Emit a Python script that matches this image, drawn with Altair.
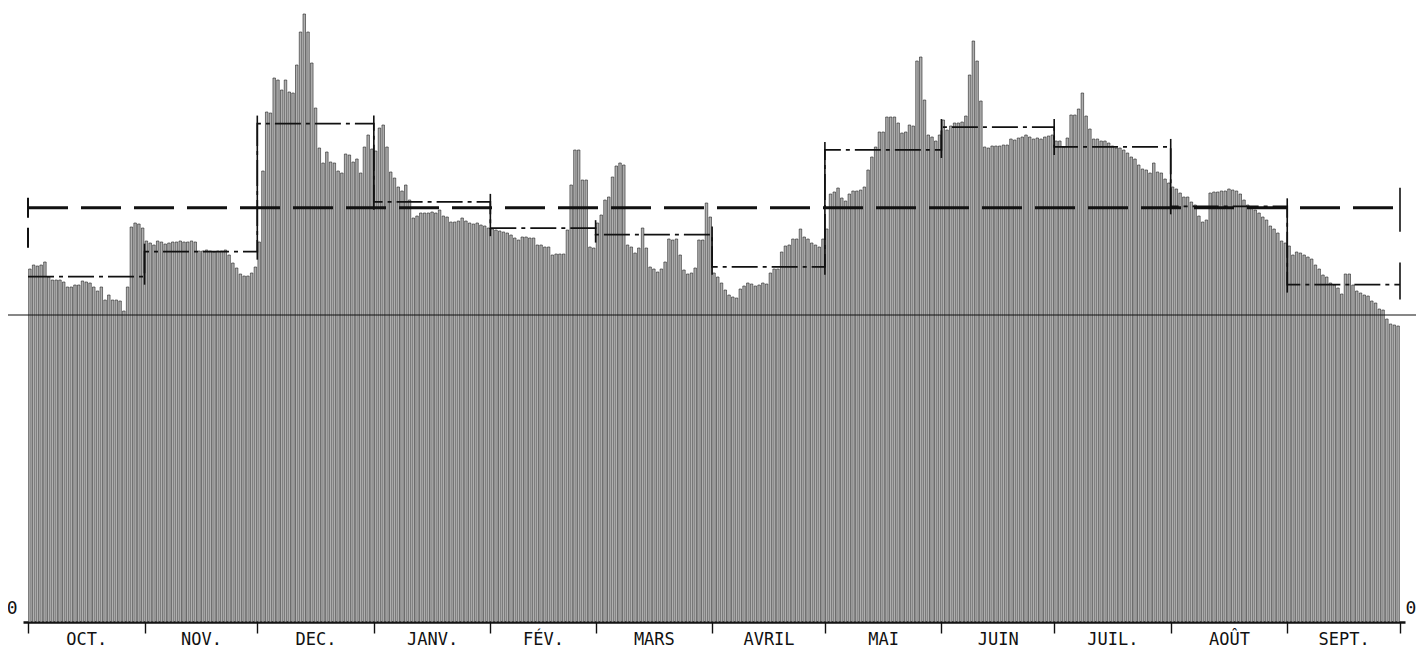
import json
import altair as alt
import pandas as pd

# ---------------- data ----------------
month_names = ["OCT.", "NOV.", "DEC.", "JANV.", "FÉV.", "MARS",
               "AVRIL", "MAI", "JUIN", "JUIL.", "AOÛT", "SEPT."]

oct_vals = [353, 357, 356, 357, 360, 345, 342, 342, 342, 340, 335, 335, 337, 337, 341, 340,
            339, 335, 331, 335, 322, 327, 322, 322, 321, 311, 335, 395, 399, 398, 394]
nov_vals = [381, 379, 377, 381, 380, 378, 379, 380, 380, 381, 380, 380, 381, 380, 371,
            371, 372, 371, 370, 371, 371, 372, 367, 359, 354, 348, 346, 346, 349, 355]
dec_vals = [380, 451, 510, 509, 544, 542, 532, 542, 530, 529, 557, 590, 608, 590, 559, 514,
            474, 459, 470, 460, 459, 451, 449, 468, 467, 460, 463, 449, 475, 487, 473]
jan_vals = [471, 494, 497, 475, 450, 444, 435, 431, 437, 422, 404, 406, 409, 409, 409, 410,
            409, 412, 406, 405, 400, 400, 401, 404, 401, 399, 398, 399, 397, 396, 394]
feb_vals = [393, 392, 391, 390, 389, 387, 384, 382, 385, 385, 384, 384, 377, 377,
            375, 375, 367, 368, 368, 368, 392, 437, 472, 472, 442, 442, 375, 374]
mar_vals = [399, 407, 422, 425, 445, 456, 459, 457, 377, 375, 369, 374, 394, 374, 355, 353,
            350, 353, 360, 383, 382, 383, 367, 352, 348, 349, 354, 382, 382, 419, 405]
apr_vals = [349, 345, 339, 332, 327, 325, 324, 333, 336, 339, 338, 336, 337, 339, 338,
            349, 353, 353, 370, 376, 377, 383, 383, 393, 385, 383, 379, 377, 375, 383]
may_vals = [393, 428, 430, 434, 424, 421, 428, 431, 431, 432, 435, 452, 465, 475, 490, 490,
            505, 505, 505, 499, 489, 490, 497, 496, 561, 565, 522, 487, 485, 481, 487]
jun_vals = [502, 492, 496, 499, 499, 500, 506, 547, 581, 561, 521, 475, 474, 476, 476,
            476, 477, 477, 483, 482, 484, 485, 487, 485, 483, 484, 483, 485, 486, 487]
jul_vals = [481, 481, 475, 484, 507, 507, 513, 529, 506, 493, 483, 483, 481, 481, 479, 476,
            474, 474, 472, 469, 465, 463, 457, 453, 452, 449, 459, 450, 449, 443, 439]
aug_vals = [435, 433, 429, 425, 425, 420, 417, 406, 400, 402, 429, 430, 430, 431, 431, 433,
            432, 431, 428, 422, 417, 414, 412, 409, 405, 402, 396, 393, 389, 381, 379]
sep_vals = [376, 367, 370, 369, 367, 365, 363, 357, 353, 347, 345, 339, 337, 334, 328,
            348, 348, 337, 331, 329, 327, 326, 321, 319, 313, 312, 303, 298, 297, 296]

ref_level = 307          # thin horizontal reference line
y_max = 614              # top of the value scale
zero_label = [0]

# ---------------- derived tables ----------------
all_months = [oct_vals, nov_vals, dec_vals, jan_vals, feb_vals, mar_vals,
              apr_vals, may_vals, jun_vals, jul_vals, aug_vals, sep_vals]

rows, starts = [], []
d = 0
for vals in all_months:
    starts.append(d)
    for v in vals:
        rows.append({"day": d + 0.5, "value": v})
        d += 1
n_days = d
ends = starts[1:] + [n_days]
mids = [(s + e) / 2 for s, e in zip(starts, ends)]
avgs = [sum(v) / len(v) for v in all_months]
annual = sum(r["value"] for r in rows) / n_days

bars_df = pd.DataFrame(rows)

step_rows = []
for i, (s, e, a) in enumerate(zip(starts, ends, avgs)):
    step_rows.append({"x": s, "y": a, "o": 2 * i})
    step_rows.append({"x": e, "y": a, "o": 2 * i + 1})
step_df = pd.DataFrame(step_rows)

tick_rows = []
for i in range(1, len(starts)):
    a0, a1 = avgs[i - 1], avgs[i]
    tick_rows.append({"x": starts[i], "y1": max(a0, a1) + 8, "y2": min(a0, a1) - 8})
tick_rows.append({"x": n_days, "y1": annual + 20, "y2": annual - 24})
tick_rows.append({"x": n_days, "y1": avgs[-1] + 22, "y2": avgs[-1] - 15})
tick_df = pd.DataFrame(tick_rows)
left_tick_df = pd.DataFrame([{"x": 0, "y1": annual + 10, "y2": avgs[0] + 20}])

annual_df = pd.DataFrame([{"x": 0, "x2": n_days, "y": annual}])
ref_df = pd.DataFrame([{"y": ref_level}])

# ---------------- styling ----------------
W, H = 1382, 614
PAD = {"left": 15, "top": 0, "right": 11, "bottom": 27}
FONT = "DejaVu Sans Mono"
INK = "#111111"

mids_js = json.dumps(mids)
names_js = json.dumps(month_names, ensure_ascii=False)
is_mid = f"indexof({mids_js}, datum.value) >= 0"

x_scale = alt.Scale(domain=[0, n_days], nice=False, zero=False)
y_scale = alt.Scale(domain=[0, y_max], nice=False)

x_axis = alt.Axis(
    values=starts + [n_days] + mids, title=None, grid=False,
    domain=True, domainColor=INK, domainWidth=2.6,
    ticks=True, tickSize=11, tickWidth=1.4, tickColor=INK,
    tickOpacity={"condition": {"test": is_mid, "value": 0}, "value": 1},
    labelExpr=f"{is_mid} ? {names_js}[indexof({mids_js}, datum.value)] : ''",
    labelFont=FONT, labelFontSize=17, labelColor=INK, labelPadding=-2,
    labelOverlap=False, labelFlush=False, labelBound=False, labelAngle=0,
)

left_axis = alt.Axis(values=zero_label, title=None, grid=False, domain=False, ticks=False,
                     labelFont=FONT, labelFontSize=18, labelColor=INK,
                     labelPadding=6, labelOffset=-14)
right_axis = alt.Axis(orient="right", values=zero_label, title=None, grid=False, domain=False,
                      ticks=False, labelFont=FONT, labelFontSize=18, labelColor=INK,
                      labelPadding=0, labelOffset=-14)

bars = alt.Chart(bars_df).mark_bar(
    width=2.5, fill="#b0b0b0", stroke="#222222", strokeWidth=0.6
).encode(
    x=alt.X("day:Q", scale=x_scale, axis=x_axis),
    y=alt.Y("value:Q", scale=y_scale, axis=left_axis),
)

ref_line = alt.Chart(ref_df).mark_rule(color=INK, strokeWidth=1.1).encode(
    y=alt.Y("y:Q", scale=y_scale, axis=None),
    x=alt.value(-PAD["left"]), x2=alt.value(W + PAD["right"]),
)

annual_line = alt.Chart(annual_df).mark_rule(
    color=INK, strokeWidth=3.2, strokeDash=[40, 13]
).encode(
    x=alt.X("x:Q", scale=x_scale, axis=x_axis), x2="x2:Q",
    y=alt.Y("y:Q", scale=y_scale, axis=right_axis),
)

step_line = alt.Chart(step_df).mark_line(
    color=INK, strokeWidth=1.7, strokeDash=[26, 5, 4, 5]
).encode(
    x=alt.X("x:Q", scale=x_scale, axis=x_axis),
    y=alt.Y("y:Q", scale=y_scale, axis=None),
    order="o:Q",
)

ticks = alt.Chart(tick_df).mark_rule(color=INK, strokeWidth=1.6).encode(
    x=alt.X("x:Q", scale=x_scale, axis=x_axis),
    y=alt.Y("y1:Q", scale=y_scale, axis=None), y2="y2:Q",
)

left_tick = alt.Chart(left_tick_df).mark_rule(color=INK, strokeWidth=2, strokeDash=[20, 10]).encode(
    x=alt.X("x:Q", scale=x_scale, axis=x_axis),
    y=alt.Y("y1:Q", scale=y_scale, axis=None), y2="y2:Q",
)

chart = alt.layer(bars, ref_line, annual_line, step_line, ticks, left_tick).resolve_axis(
    y="independent"
).properties(
    width=W, height=H,
    padding=PAD,
    autosize=alt.AutoSizeParams(type="none"),
    background="white",
).configure_view(stroke=None)

chart.save("out.html", embed_options={"renderer": "svg", "actions": False})
